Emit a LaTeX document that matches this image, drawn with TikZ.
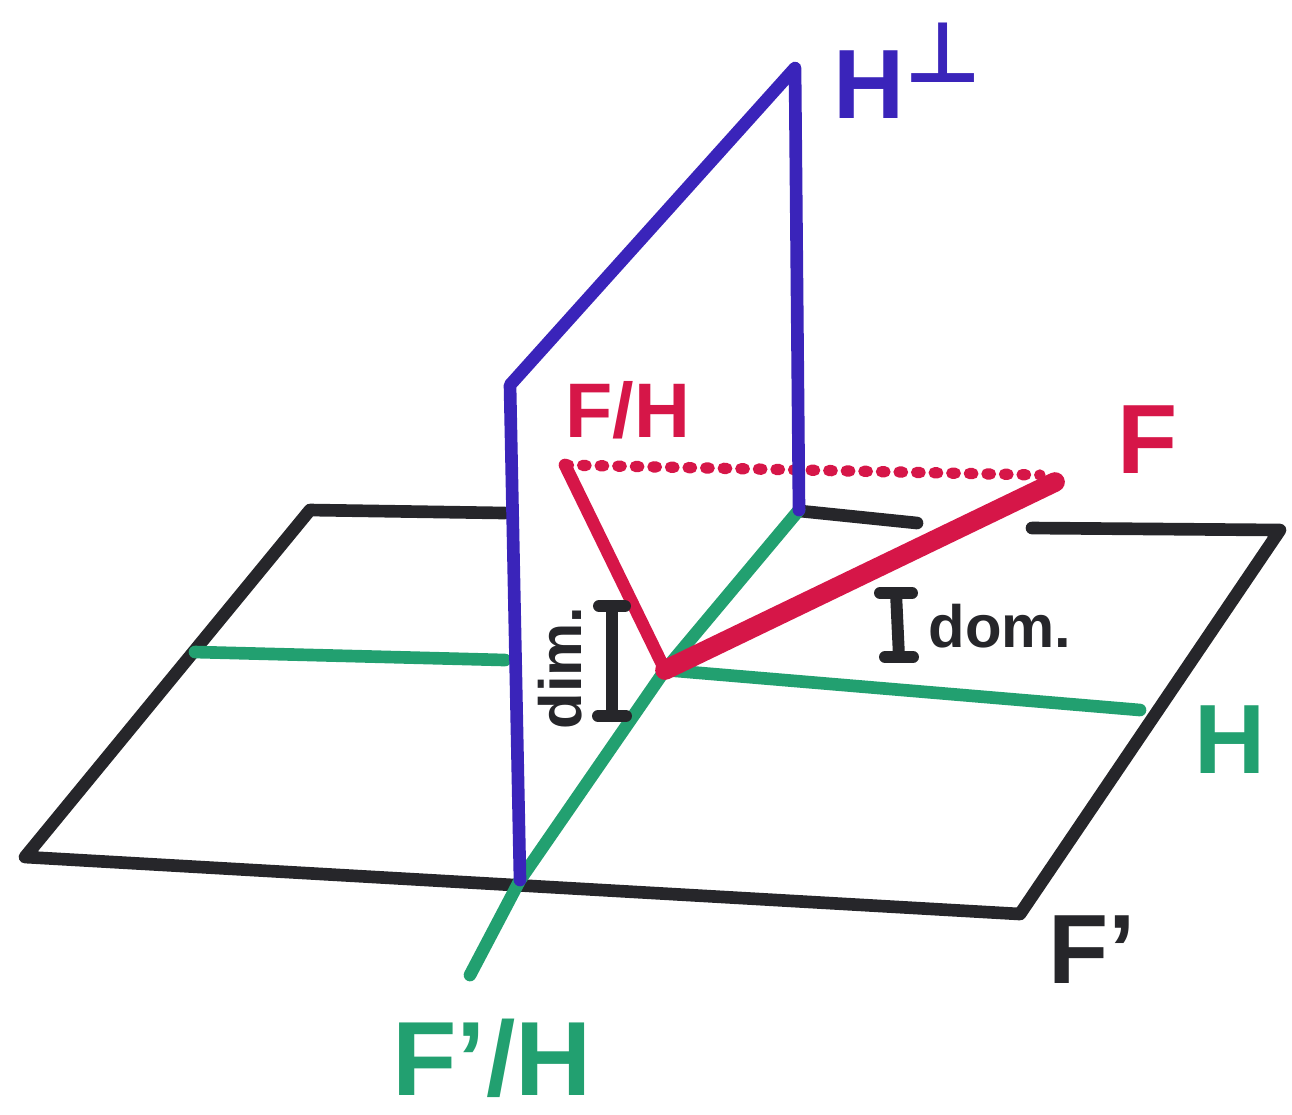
\documentclass[tikz,border=0pt]{standalone}
\usepackage{fontspec}
\setmainfont{Liberation Sans}
\newfontfamily\symfont{DejaVu Sans}
\usetikzlibrary{positioning}
\definecolor{planeblue}{RGB}{58,36,186}
\definecolor{fred}{RGB}{214,22,72}
\definecolor{hgreen}{RGB}{34,160,112}
\definecolor{ink}{RGB}{38,38,42}

\begin{document}
\begin{tikzpicture}[x=0.01cm,y=-0.01cm,line cap=round,line join=round,
pen/.style={line width=3.6pt},
floor/.style={pen,ink},
perp/.style={pen,planeblue},
hline/.style={pen,hgreen},
fline/.style={pen,fred},
brack/.style={ink,line width=3.4pt},
lab/.style={inner sep=0pt,font=\bfseries\fontsize{28}{30}\selectfont},
small/.style={inner sep=0pt,font=\bfseries\fontsize{17}{19}\selectfont,ink}]
\useasboundingbox (0,0) rectangle (1292,1114);
% floor F'
\coordinate (ftl) at (310,510);
\coordinate (fbl) at (25,857);
\coordinate (fbr) at (1020,914);
\coordinate (ftr) at (1280,530);
\coordinate (ta) at (505,513);
\coordinate (tb) at (800,511);
\coordinate (tc) at (917,523);
\coordinate (td) at (1032,528);
\draw[floor] (ta) -- (ftl) -- (fbl) -- (fbr) -- (ftr) -- (td);
\draw[floor] (tb) -- (tc);
% plane H^perp
\coordinate (pb) at (520,880);
\coordinate (pl) at (510,385);
\coordinate (pt) at (795,68);
\coordinate (pr) at (799,510);
% origin and lines
\coordinate (o) at (665,670);
\coordinate (hl) at (195,652);
\coordinate (hm) at (505,660);
\coordinate (hr) at (1140,710);
\coordinate (fe) at (470,975);
\draw[hline] (hl) -- (hm);
\draw[hline] (o) -- (hr);
\draw[hline] (pr) -- (o) -- (pb) -- (fe);
% F and its projection
\coordinate (fh) at (565,465);
\coordinate (ff) at (1055,482);
\coordinate (fd) at (1040,475);
\draw[fred,line width=3.2pt,dash pattern=on 1pt off 4pt] (fh) -- (fd);
\draw[perp] (pb) -- (pl) -- (pt) -- (pr);
\draw[fline] (fh) -- (o);
\draw[fline,line width=5.6pt] (o) -- (ff);
% brackets
\coordinate (dimt) at (612,606);
\coordinate (dimb) at (612,716);
\draw[brack] (dimt) -- (dimb);
\draw[brack] (dimt) ++(-13,0) -- ++(26,0);
\draw[brack] (dimb) ++(-14,0) -- ++(28,0);
\coordinate (domt) at (896,593);
\coordinate (domb) at (899,657);
\draw[brack] (domt) -- (domb);
\draw[brack] (domt) ++(-16,0) -- ++(32,0);
\draw[brack] (domb) ++(-14,0) -- ++(28,0);
% labels
\node[lab,planeblue,anchor=base west] (hperp) at (833,118) {H\raisebox{0.36em}{\symfont\bfseries\fontsize{24}{24}\selectfont ⊥}};
\node[lab,fred,font=\bfseries\fontsize{22}{24}\selectfont] (fhlab) at (628,410) {F/H};
\node[lab,fred] (flab) at (1148,440) {F};
\node[lab,hgreen] (hlab) at (1230,740) {H};
\node[lab,ink] (fplab) at (1092,950) {F'};
\node[lab,hgreen,font=\bfseries\fontsize{30}{32}\selectfont] (fphlab) at (492,1058) {F'/H};
\node[small,rotate=90] (dimlab) at (560,668) {dim.};
\node[small,anchor=west] (domlab) at (928,626) {dom.};
\end{tikzpicture}
\end{document}
